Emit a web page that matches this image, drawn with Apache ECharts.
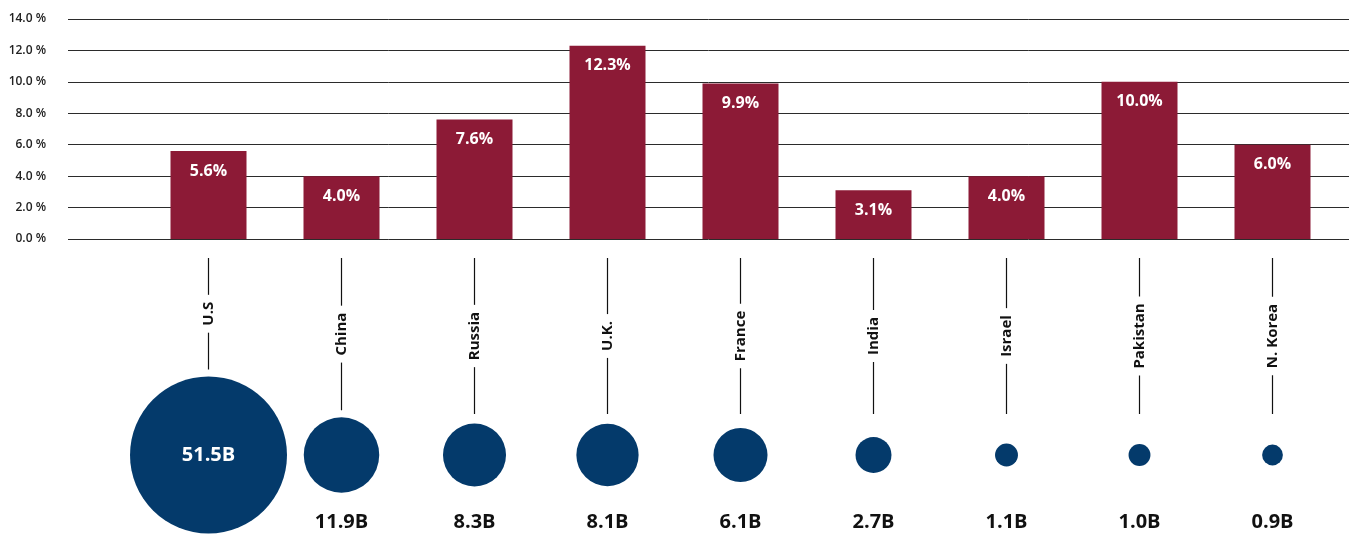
<!DOCTYPE html>
<html>
<head>
<meta charset="utf-8">
<script src="https://cdn.jsdelivr.net/npm/echarts@6/dist/echarts.min.js"></script>
<style>
  html, body { margin: 0; padding: 0; background: #fff; }
  #main { width: 1349px; height: 535px; }
</style>
</head>
<body>
<div id="main"></div>
<script>
// data
var countries = ["U.S", "China", "Russia", "U.K.", "France", "India", "Israel", "Pakistan", "N. Korea"];
var sharePct = [5.6, 4.0, 7.6, 12.3, 9.9, 3.1, 4.0, 10.0, 6.0];
var spendB = [51.5, 11.9, 8.3, 8.1, 6.1, 2.7, 1.1, 1.0, 0.9];
var shareMax = 14;
var shareStep = 2;

var RED = "#8c1a36";
var NAVY = "#043a6b";
var FONT = "Open Sans";

var myChart = echarts.init(document.getElementById("main"));

// circle diameter grows with the square root of the value (area scale)
var maxSpend = Math.max.apply(null, spendB);
function radius(v) {
  return 78.5 * Math.sqrt(v / maxSpend);
}

var option = {
  animation: false,
  grid: [
    // gridlines + y labels, full width
    { left: 68, right: 0, top: 19, height: 220 },
    // bars
    { left: 142, width: 1197, top: 19, height: 220 },
    // connectors, names and circles
    { left: 142, width: 1197, top: 250, height: 285 }
  ],
  xAxis: [
    { gridIndex: 0, type: "value", show: false },
    { gridIndex: 1, type: "category", data: countries, show: false },
    { gridIndex: 2, type: "category", data: countries, show: false }
  ],
  yAxis: [
    {
      gridIndex: 0,
      type: "value",
      min: 0,
      max: shareMax,
      interval: shareStep,
      axisLine: { show: false },
      axisTick: { show: false },
      axisLabel: {
        margin: 22,
        color: "#222",
        fontSize: 12,
        fontWeight: 600,
        fontFamily: FONT,
        formatter: function (v) { return v.toFixed(1) + " %"; }
      },
      splitLine: { lineStyle: { color: "#2b2b2b", width: 1 } }
    },
    { gridIndex: 1, type: "value", min: 0, max: shareMax, show: false },
    { gridIndex: 2, type: "value", min: 0, max: 100, show: false }
  ],
  series: [
    {
      type: "bar",
      xAxisIndex: 1,
      yAxisIndex: 1,
      data: sharePct,
      barWidth: 76,
      itemStyle: { color: RED },
      label: {
        show: true,
        position: "insideTop",
        distance: 12,
        color: "#fff",
        fontSize: 16,
        fontWeight: "bold",
        fontFamily: FONT,
        formatter: function (p) { return p.value.toFixed(1) + "%"; }
      }
    },
    {
      type: "custom",
      xAxisIndex: 2,
      yAxisIndex: 2,
      data: spendB.map(function (v, i) { return [i, v]; }),
      renderItem: function (params, api) {
        var x = api.coord([api.value(0), 0])[0];
        var v = api.value(1);
        var r = radius(v);
        var cy = 455;
        var lineTop = 258;
        var lineEnd = Math.min(414, cy - r - 7);
        var mid = (lineTop + lineEnd) / 2;
        var big = r > 50;
        var children = [
          {
            type: "line",
            shape: { x1: x, y1: lineTop, x2: x, y2: lineEnd },
            style: { stroke: "#111", lineWidth: 1.2 }
          },
          {
            type: "text",
            x: x,
            y: mid,
            rotation: Math.PI / 2,
            style: {
              text: countries[params.dataIndex],
              align: "center",
              verticalAlign: "middle",
              fill: "#111",
              font: "bold 15px " + FONT,
              backgroundColor: "#fff",
              padding: [0, 7]
            }
          },
          {
            type: "circle",
            shape: { cx: x, cy: cy, r: r },
            style: { fill: NAVY }
          },
          {
            type: "text",
            x: x,
            y: big ? cy : 522,
            style: {
              text: v.toFixed(1) + "B",
              align: "center",
              verticalAlign: "middle",
              fill: big ? "#fff" : "#111",
              font: "bold 20px " + FONT
            }
          }
        ];
        return { type: "group", children: children };
      }
    }
  ]
};

myChart.setOption(option);
</script>
</body>
</html>
